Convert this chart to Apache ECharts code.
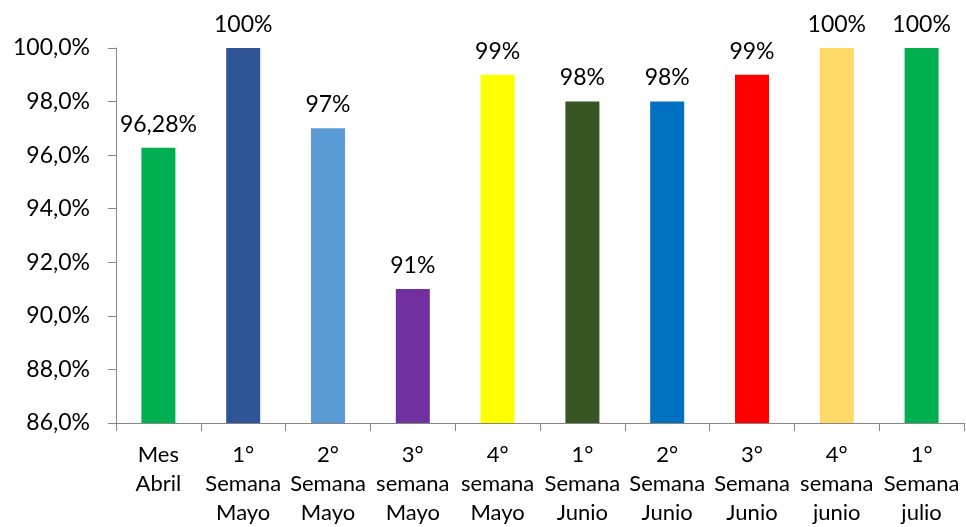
<!DOCTYPE html>
<html>
<head>
<meta charset="utf-8">
<script src="https://cdn.jsdelivr.net/npm/echarts@6/dist/echarts.min.js"></script>
<style>
    html, body { margin: 0; padding: 0; background: #fff; }
    #chart { width: 966px; height: 527px; }
</style>
</head>
<body>
<div id="chart"></div>
<script>
var categorias = [
    'Mes\nAbril',
    '1°\nSemana\nMayo',
    '2°\nSemana\nMayo',
    '3°\nsemana\nMayo',
    '4°\nsemana\nMayo',
    '1°\nSemana\nJunio',
    '2°\nSemana\nJunio',
    '3°\nSemana\nJunio',
    '4°\nsemana\njunio',
    '1°\nSemana\njulio'
];
var valores = [96.28, 100, 97, 91, 99, 98, 98, 99, 100, 100];
var colores = ['#00B050', '#2F5597', '#5B9BD5', '#7030A0', '#FFFF00', '#375623', '#0070C0', '#FF0000', '#FFD966', '#00B050'];

var fuente = 'Lato, "Open Sans", sans-serif';

var datos = valores.map(function (v, i) {
    return { value: v, itemStyle: { color: colores[i] } };
});

var option = {
    animation: false,
    grid: { left: 116, right: 2, top: 48, bottom: 102 },
    xAxis: {
        type: 'category',
        data: categorias,
        axisLine: { lineStyle: { color: '#868686', width: 1 } },
        axisTick: { show: true, length: 8, lineStyle: { color: '#868686' } },
        axisLabel: {
            color: '#000',
            fontFamily: fuente,
            fontSize: 22,
            lineHeight: 29,
            margin: 17,
            interval: 0
        }
    },
    yAxis: {
        type: 'value',
        min: 86,
        max: 100,
        interval: 2,
        axisLine: { show: true, lineStyle: { color: '#868686', width: 1 } },
        axisTick: { show: true, length: 8, lineStyle: { color: '#868686' } },
        splitLine: { show: false },
        axisLabel: {
            color: '#000',
            fontFamily: fuente,
            fontSize: 23,
            margin: 26,
            formatter: function (v) {
                return v.toFixed(1).replace('.', ',') + '%';
            }
        }
    },
    series: [{
        type: 'bar',
        data: datos,
        barWidth: 34,
        label: {
            show: true,
            position: 'top',
            distance: 12,
            color: '#000',
            fontFamily: fuente,
            fontSize: 23,
            formatter: function (p) {
                return String(p.value).replace('.', ',') + '%';
            }
        }
    }]
};

var myChart = echarts.init(document.getElementById('chart'));
myChart.setOption(option);
</script>
</body>
</html>
